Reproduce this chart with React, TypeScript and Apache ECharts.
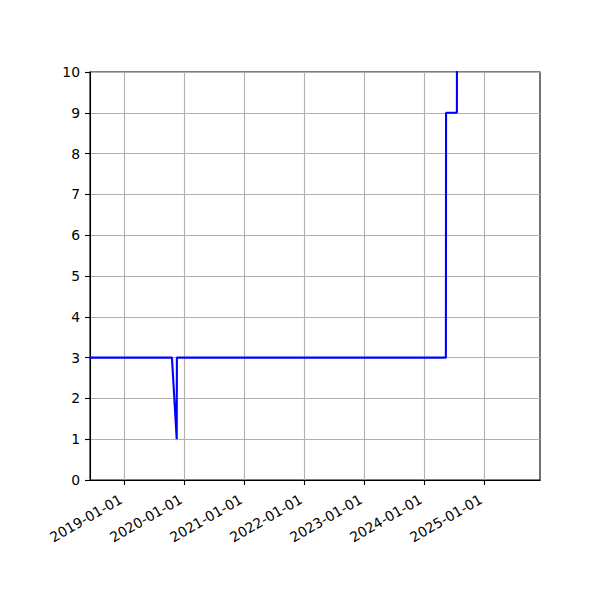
import React, { useEffect, useRef } from "react";
import * as echarts from "echarts";

const dates = [
  "2018-06-06",
  "2019-10-18",
  "2019-11-16",
  "2019-11-17",
  "2024-05-12",
  "2024-05-13",
  "2024-07-18",
  "2024-07-19",
];
const values = [3, 3, 1, 3, 3, 9, 9, 14];
const xStart = "2018-06-06";
const xEnd = "2025-12-06";
const tickDates = [
  "2019-01-01",
  "2020-01-01",
  "2021-01-01",
  "2022-01-01",
  "2023-01-01",
  "2024-01-01",
  "2025-01-01",
];

const toMs = (d: string) => {
  const [y, m, dd] = d.split("-").map(Number);
  return Date.UTC(y, m - 1, dd);
};
const fmt = (v: number) => {
  const d = new Date(v);
  const p = (n: number) => String(n).padStart(2, "0");
  return `${d.getUTCFullYear()}-${p(d.getUTCMonth() + 1)}-${p(d.getUTCDate())}`;
};

export default function App() {
  const ref = useRef<HTMLDivElement>(null);
  useEffect(() => {
    const chart = echarts.init(ref.current!, undefined, { renderer: "svg" });
    const tickMs = tickDates.map(toMs);
    const font = "DejaVu Sans";
    chart.setOption({
      animation: false,
      backgroundColor: "#ffffff",
      grid: {
        left: 90,
        right: 60,
        top: 72,
        bottom: 120,
        show: true,
        borderColor: "#000",
        borderWidth: 1.1,
        backgroundColor: "transparent",
      },
      xAxis: {
        type: "value",
        min: toMs(xStart),
        max: toMs(xEnd),
        axisLine: { show: true, onZero: false, lineStyle: { color: "#000", width: 1.1 } },
        axisTick: {
          show: true,
          customValues: tickMs,
          length: 5,
          lineStyle: { color: "#000", width: 1.1 },
        },
        axisLabel: {
          customValues: tickMs,
          rotate: 30,
          margin: 16,
          padding: [0, 4, 0, 0],
          fontFamily: font,
          fontSize: 13.9,
          color: "#000",
          formatter: (v: number) => fmt(v),
        },
        splitLine: { show: true, lineStyle: { color: "#b0b0b0", width: 1.1 } },
      },
      yAxis: {
        type: "value",
        min: 0,
        max: 10,
        interval: 1,
        axisLine: { show: true, onZero: false, lineStyle: { color: "#000", width: 1.1 } },
        axisTick: { show: true, length: 5, lineStyle: { color: "#000", width: 1.1 } },
        axisLabel: { margin: 10, fontFamily: font, fontSize: 13.9, color: "#000" },
        splitLine: { show: true, lineStyle: { color: "#b0b0b0", width: 1.1 } },
      },
      series: [
        {
          type: "line",
          data: dates.map((d, i) => [toMs(d), values[i]]),
          showSymbol: false,
          symbol: "none",
          clip: true,
          lineStyle: { color: "#0000ff", width: 2.1 },
          z: 5,
        },
      ],
    });
    return () => chart.dispose();
  }, []);
  return (
    <div
      ref={ref}
      style={{ position: "fixed", left: 0, top: 0, width: 600, height: 600 }}
    />
  );
}
